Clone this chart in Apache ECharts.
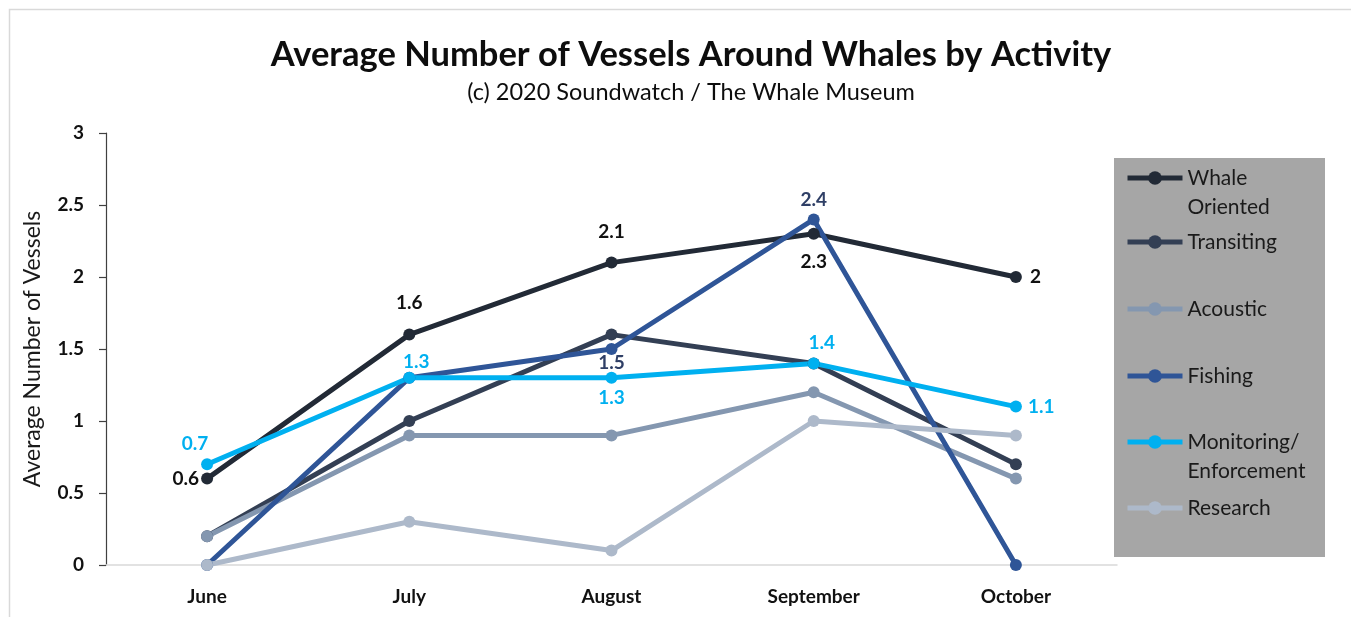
<!DOCTYPE html>
<html>
<head>
<meta charset="utf-8">
<script src="https://cdn.jsdelivr.net/npm/echarts@6/dist/echarts.min.js"></script>
<style>
  html, body { margin: 0; padding: 0; background: #ffffff; }
  #chart { width: 1351px; height: 617px; }
</style>
</head>
<body>
<div id="chart"></div>
<script>
// Months surveyed
const months = ['June', 'July', 'August', 'September', 'October'];

// Average number of vessels by activity
const whaleOriented = [0.6, 1.6, 2.1, 2.3, 2.0];
const transiting    = [0.2, 1.0, 1.6, 1.4, 0.7];
const acoustic      = [0.2, 0.9, 0.9, 1.2, 0.6];
const fishing       = [0.0, 1.3, 1.5, 2.4, 0.0];
const monitoring    = [0.7, 1.3, 1.3, 1.4, 1.1];
const research      = [0.0, 0.3, 0.1, 1.0, 0.9];

// Value axis ticks
const yTicks = [0, 0.5, 1, 1.5, 2, 2.5, 3];

const FONT = 'Lato, "Open Sans", sans-serif';

const chart = echarts.init(document.getElementById('chart'));

// Per-point value label settings: null means no label at that point
function withLabels(values, labels) {
  return values.map((v, i) => {
    const l = labels[i];
    if (!l) return { value: v };
    return { value: v, label: Object.assign({ show: true }, l) };
  });
}

function lineSeries(name, color, data) {
  return {
    name: name,
    type: 'line',
    data: data,
    symbol: 'circle',
    symbolSize: 12,
    lineStyle: { color: color, width: 5 },
    itemStyle: { color: color },
    emphasis: { disabled: true },
    label: { show: false, fontFamily: FONT, fontWeight: 'bold', fontSize: 19 }
  };
}

const blackLbl = '#111111';
const fishLbl = '#2f3f66';
const monLbl = '#00b0f0';

const series = [
  lineSeries('Whale Oriented', '#222a36', withLabels(whaleOriented, [
    { position: 'left', distance: 2, color: blackLbl },
    { position: 'top', distance: 16, color: blackLbl },
    { position: 'top', distance: 15, color: blackLbl },
    { position: 'bottom', distance: 13, color: blackLbl },
    { position: 'right', distance: 8, color: blackLbl, formatter: '2' }
  ])),
  lineSeries('Transiting', '#333f54', transiting.map(v => ({ value: v }))),
  lineSeries('Acoustic', '#8497b0', acoustic.map(v => ({ value: v }))),
  lineSeries('Fishing', '#2f5597', withLabels(fishing, [
    null, null,
    { position: 'bottom', distance: -2, color: fishLbl },
    { position: 'top', distance: 4, color: fishLbl },
    null
  ])),
  lineSeries('Monitoring/Enforcement', '#00b0f0', withLabels(monitoring, [
    { position: 'top', distance: 5, offset: [-12, 0], color: monLbl },
    { position: 'top', distance: 0, offset: [7, 0], color: monLbl },
    { position: 'bottom', distance: 5, color: monLbl },
    { position: 'top', distance: 5, offset: [8, 0], color: monLbl },
    { position: 'right', distance: 6, color: monLbl }
  ])),
  lineSeries('Research', '#adb9ca', research.map(v => ({ value: v })))
];

// One legend block per series, stacked inside the grey panel.
// Two-line names get a blank leading line so the marker sits on the first line.
const legendNames = ['Whale Oriented', 'Transiting', 'Acoustic', 'Fishing', 'Monitoring/Enforcement', 'Research'];
const legendDisplay = {
  'Whale Oriented': ' \nWhale\nOriented',
  'Monitoring/Enforcement': ' \nMonitoring/\nEnforcement'
};
const legendIconY = [178, 242, 309, 376, 442, 508];
const LEGEND_LINE = 29;
const legends = legendNames.map((name, i) => {
  const lines = legendDisplay[name] ? 3 : 1;
  return {
    orient: 'vertical',
    left: 1125,
    top: legendIconY[i] - (lines * LEGEND_LINE) / 2,
    data: [name],
    itemWidth: 55,
    itemHeight: 17,
    itemGap: 0,
    padding: 0,
    selectedMode: false,
    lineStyle: { width: 5 },
    formatter: n => (legendDisplay[n] || n),
    textStyle: {
      fontFamily: FONT,
      fontSize: 21,
      color: '#1a1a1a',
      lineHeight: LEGEND_LINE
    }
  };
});

chart.setOption({
  animation: false,
  backgroundColor: '#ffffff',
  title: [
    {
      text: 'Average Number of Vessels Around Whales by Activity',
      left: 686,
      top: 32,
      textAlign: 'center',
      textStyle: { fontFamily: FONT, fontWeight: 'bold', fontSize: 34.5, color: '#0d0d0d' }
    },
    {
      text: '(c) 2020 Soundwatch / The Whale Museum',
      left: 686,
      top: 75,
      textAlign: 'center',
      textStyle: { fontFamily: FONT, fontWeight: 'normal', fontSize: 23.5, color: '#0d0d0d' }
    }
  ],
  graphic: [
    {
      type: 'rect',
      z: -10,
      shape: { x: 9.5, y: 9.5, width: 1400, height: 700 },
      style: { fill: null, stroke: '#d9d9d9', lineWidth: 1.5 }
    },
    {
      type: 'rect',
      z: 0,
      shape: { x: 1114, y: 158, width: 211, height: 399 },
      style: { fill: '#a6a6a6' }
    }
  ],
  legend: legends,
  grid: { left: 106, right: 234, top: 133, bottom: 52, containLabel: false },
  xAxis: {
    type: 'category',
    data: months,
    boundaryGap: true,
    axisLine: { show: true, lineStyle: { color: '#d9d9d9', width: 1.5 } },
    axisTick: { show: false },
    axisLabel: { fontFamily: FONT, fontWeight: 'bold', fontSize: 19, color: '#111111', margin: 22 }
  },
  yAxis: {
    type: 'value',
    min: yTicks[0],
    max: yTicks[yTicks.length - 1],
    interval: 0.5,
    name: 'Average Number of Vessels',
    nameLocation: 'middle',
    nameGap: 62,
    nameRotate: 90,
    nameTextStyle: { fontFamily: FONT, fontSize: 23, color: '#1a1a1a' },
    axisLine: { show: true, lineStyle: { color: '#404040', width: 1.2 } },
    axisTick: { show: true, length: 7, lineStyle: { color: '#404040', width: 1.2 } },
    splitLine: { show: false },
    axisLabel: { fontFamily: FONT, fontWeight: 'bold', fontSize: 19, color: '#111111', margin: 22 }
  },
  series: series
});
</script>
</body>
</html>
